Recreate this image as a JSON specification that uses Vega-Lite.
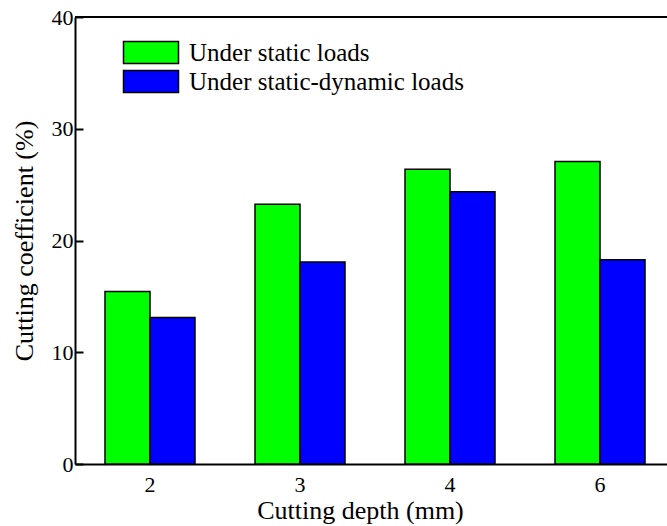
{
  "$schema": "https://vega.github.io/schema/vega-lite/v6.json",
  "width": 592,
  "height": 447,
  "autosize": {"type": "none"},
  "padding": {"left": 75, "top": 17, "right": 0, "bottom": 62},
  "background": "white",
  "config": {
    "view": {"stroke": null},
    "font": "'Liberation Serif', 'DejaVu Serif', serif",
    "axis": {
      "domainColor": "black",
      "domainWidth": 2,
      "tickColor": "black",
      "tickWidth": 2,
      "grid": false
    }
  },
  "data": {
    "values": [
      {"depth": "2", "load": "Under static loads", "value": 15.44},
      {"depth": "2", "load": "Under static-dynamic loads", "value": 13.11},
      {"depth": "3", "load": "Under static loads", "value": 23.24},
      {"depth": "3", "load": "Under static-dynamic loads", "value": 18.07},
      {"depth": "4", "load": "Under static loads", "value": 26.37},
      {"depth": "4", "load": "Under static-dynamic loads", "value": 24.37},
      {"depth": "6", "load": "Under static loads", "value": 27.06},
      {"depth": "6", "load": "Under static-dynamic loads", "value": 18.28}
    ]
  },
  "layer": [
    {
      "mark": {"type": "bar", "stroke": "black", "strokeWidth": 1.5},
      "encoding": {
        "x": {
          "field": "depth",
          "type": "nominal",
          "sort": ["2", "3", "4", "6"],
          "scale": {"paddingInner": 0.4, "paddingOuter": 0.1733, "align": 0.577},
          "axis": {
            "title": "Cutting depth (mm)",
            "labelAngle": 0,
            "ticks": false,
            "labelPadding": 10,
            "labelFont": "'Liberation Serif', 'DejaVu Serif', serif",
            "labelFontSize": 22,
            "labelColor": "black",
            "titleFont": "'Liberation Serif', 'DejaVu Serif', serif",
            "titleFontSize": 26,
            "titleFontWeight": "normal",
            "titleColor": "black",
            "titleX": 285,
            "titlePadding": 2
          }
        },
        "xOffset": {
          "field": "load",
          "type": "nominal",
          "sort": ["Under static loads", "Under static-dynamic loads"],
          "scale": {"paddingInner": 0, "paddingOuter": 0}
        },
        "y": {
          "field": "value",
          "type": "quantitative",
          "scale": {"domain": [0, 40], "nice": false},
          "axis": {
            "values": [0, 10, 20, 30, 40],
            "tickSize": -8,
            "labelPadding": 10,
            "labelFont": "'Liberation Serif', 'DejaVu Serif', serif",
            "labelFontSize": 22,
            "labelColor": "black",
            "title": "Cutting coefficient (%)",
            "titleFont": "'Liberation Serif', 'DejaVu Serif', serif",
            "titleFontSize": 26,
            "titleFontWeight": "normal",
            "titleColor": "black",
            "titlePadding": 14
          }
        },
        "fill": {
          "field": "load",
          "type": "nominal",
          "scale": {
            "domain": ["Under static loads", "Under static-dynamic loads"],
            "range": ["#00FF00", "#0000FF"]
          },
          "legend": {
            "orient": "none",
            "legendX": 63.5,
            "legendY": 23,
            "title": null,
            "padding": 0,
            "symbolType": "M-2.5,-1H2.5V1H-2.5Z",
            "symbolSize": 484,
            "symbolStrokeColor": "black",
            "symbolStrokeWidth": 1.5,
            "symbolOpacity": 1,
            "labelFont": "'Liberation Serif', 'DejaVu Serif', serif",
            "labelFontSize": 25,
            "labelColor": "black",
            "labelLimit": 0,
            "labelOffset": 25.5,
            "rowPadding": 0
          }
        }
      }
    },
    {
      "mark": {"type": "rule", "strokeWidth": 2, "color": "black"},
      "encoding": {"y": {"datum": 40}}
    }
  ]
}
